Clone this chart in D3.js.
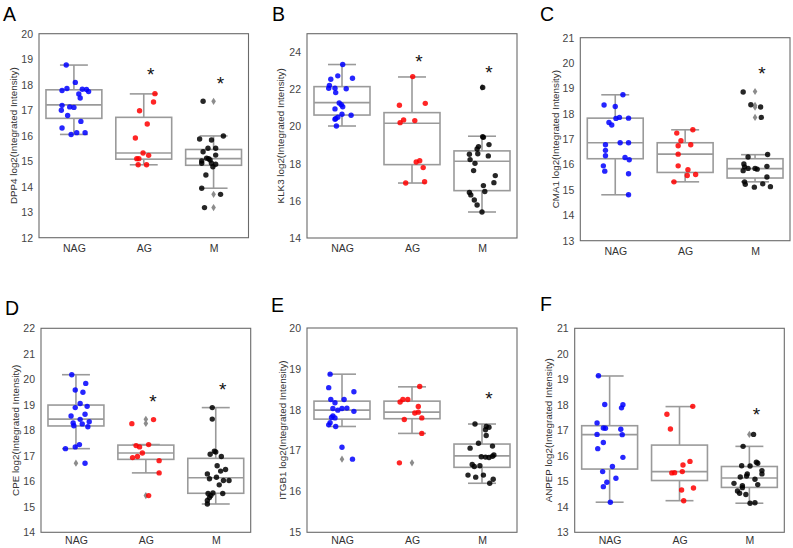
<!DOCTYPE html>
<html>
<head>
<meta charset="utf-8">
<script src="https://cdn.jsdelivr.net/npm/d3@7"></script>
<style>
  html, body { margin: 0; padding: 0; background: #fff; }
  svg { display: block; font-family: "Liberation Sans", Arial, sans-serif; }
</style>
</head>
<body>
<svg id="chart" width="793" height="548"></svg>
<script>
// ---------------- DATA ----------------
const groups = ["NAG", "AG", "M"];
const panelLetters = ["A", "B", "C", "D", "E", "F"];
const proteins = ["DPP4", "KLK3", "CMA1", "CPE", "ITGB1", "ANPEP"];
const yDomains = [[12, 20], [14, 25], [13, 21], [14, 22], [15, 20], [13, 21]];
const yTickValues = [
  [12, 13, 14, 15, 16, 17, 18, 19, 20],
  [14, 16, 18, 20, 22, 24],
  [13, 14, 15, 16, 17, 18, 19, 20, 21],
  [14, 15, 16, 17, 18, 19, 20, 21, 22],
  [15, 16, 17, 18, 19, 20],
  [13, 14, 15, 16, 17, 18, 19, 20, 21]
];

// points: [value, jitter within category (category units)]
const dpp4NAG = [[18.77,-0.11],[18.09,0.02],[17.77,-0.17],[17.85,-0.10],[17.82,0.12],[17.81,0.18],[17.73,0.21],[17.64,0.07],[17.48,0.09],[17.19,-0.17],[17.13,-0.06],[17.11,0.0],[17.00,-0.18],[16.79,-0.09],[16.56,0.10],[16.30,-0.17],[16.05,-0.04],[16.12,0.04],[16.12,0.16]];
const dpp4AG = [[17.65,0.16],[17.32,0.14],[16.98,-0.06],[16.46,0.05],[15.91,-0.12],[15.32,-0.01],[15.23,0.07],[15.10,-0.10],[15.10,-0.07],[14.86,-0.08],[14.86,0.04]];
const dpp4M = [[17.35,-0.15],[15.99,0.14],[15.87,-0.20],[15.83,-0.03],[15.51,-0.08],[15.51,0.03],[15.37,-0.15],[15.24,0.03],[15.12,-0.10],[15.10,-0.07],[15.05,-0.05],[15.01,-0.17],[14.92,-0.17],[14.92,-0.03],[14.88,0.03],[14.78,-0.01],[14.46,-0.11],[13.94,-0.17],[13.70,0.10],[13.18,-0.13]];
const dpp4Box = [[16.05,16.68,17.21,17.80,18.77],[14.86,15.08,15.32,16.72,17.64],[13.94,14.84,15.10,15.46,15.99]];
const dpp4Outliers = [[2,17.35],[2,13.70],[2,13.18]];
const dpp4Stars = [[1,18.56],[2,18.23]];

const klk3NAG = [[23.34,0.01],[22.73,-0.06],[22.55,-0.16],[22.60,0.15],[22.22,-0.18],[22.06,-0.19],[22.06,-0.10],[22.04,0.06],[21.83,-0.09],[21.27,-0.04],[21.18,-0.01],[21.07,0.01],[20.95,-0.10],[20.66,0.0],[20.61,0.13],[20.50,-0.06],[20.43,-0.09],[20.39,-0.10],[20.03,-0.08]];
const klk3AG = [[22.69,0.01],[21.15,-0.18],[21.25,0.19],[20.36,-0.12],[20.21,-0.17],[20.32,0.04],[18.09,0.06],[18.16,0.11],[17.79,0.16],[16.96,-0.09],[17.03,0.18]];
const klk3M = [[22.11,0.01],[19.42,0.02],[19.45,0.01],[18.92,-0.05],[18.79,-0.07],[19.03,0.10],[18.51,-0.18],[18.54,-0.06],[18.42,0.09],[18.22,-0.17],[18.02,-0.10],[17.63,-0.12],[17.36,0.19],[16.98,0.17],[16.82,0.02],[16.45,-0.18],[16.32,-0.16],[16.50,0.04],[16.05,-0.11],[15.78,-0.07],[15.40,0.0]];
const klk3Box = [[20.03,20.62,21.29,22.15,23.34],[16.96,17.95,20.18,20.75,22.67],[15.40,16.55,18.13,18.69,19.48]];
const klk3Outliers = [[2,22.11]];
const klk3Stars = [[1,23.71],[2,23.14]];

const cma1NAG = [[18.75,0.11],[18.35,-0.16],[18.29,0.0],[17.82,0.01],[17.86,0.06],[17.83,0.19],[17.66,-0.09],[17.56,-0.05],[16.78,-0.14],[16.86,0.07],[16.86,0.19],[16.56,-0.14],[16.35,-0.14],[16.28,0.14],[16.19,0.20],[15.95,-0.17],[15.74,-0.15],[15.64,0.19],[14.81,0.19]];
const cma1AG = [[17.37,0.11],[17.24,-0.12],[16.94,-0.06],[16.74,-0.10],[16.78,0.08],[16.41,-0.10],[15.95,-0.10],[15.80,0.04],[15.57,0.03],[15.61,0.15],[15.32,-0.16]];
const cma1M = [[18.86,-0.17],[18.36,-0.06],[18.27,0.08],[17.86,0.09],[16.30,-0.10],[16.40,0.18],[16.02,-0.16],[15.91,-0.15],[15.85,-0.10],[15.85,0.0],[15.82,0.03],[15.93,0.17],[15.76,-0.17],[15.32,-0.15],[15.22,-0.14],[15.51,0.17],[15.24,0.11],[15.11,-0.01],[15.13,0.22]];
const cma1Box = [[14.81,16.23,16.86,17.83,18.75],[15.32,15.69,16.41,16.86,17.37],[15.32,15.47,15.84,16.23,16.39]];
const cma1Outliers = [[2,18.88],[2,18.33],[2,18.26],[2,17.86]];
const cma1Stars = [[2,19.76]];

const cpeNAG = [[20.18,-0.06],[19.84,0.14],[19.58,-0.01],[19.49,0.10],[19.05,0.06],[18.94,0.16],[18.89,-0.01],[18.56,-0.07],[18.63,0.13],[18.43,0.06],[18.29,-0.04],[18.18,-0.03],[18.25,0.09],[18.34,0.19],[18.14,0.17],[17.44,0.05],[17.35,-0.01],[17.28,-0.15],[16.71,0.13]];
const cpeAG = [[18.26,-0.20],[18.42,0.11],[17.44,0.04],[17.40,-0.14],[17.35,-0.09],[17.11,-0.05],[16.97,-0.12],[16.93,-0.19],[16.81,0.19],[16.33,0.19],[15.44,0.04]];
const cpeM = [[18.89,-0.05],[18.44,-0.05],[17.18,-0.02],[17.15,0.0],[17.06,-0.08],[16.97,0.08],[16.61,0.02],[16.46,0.14],[16.40,0.07],[16.29,-0.12],[16.10,-0.09],[16.16,0.01],[16.03,0.19],[16.03,0.11],[15.86,0.05],[15.52,-0.11],[15.54,-0.04],[15.52,0.10],[15.36,-0.09],[15.44,-0.07],[15.25,-0.12],[15.11,-0.12]];
const cpeBox = [[17.28,18.17,18.44,18.99,20.18],[16.33,16.86,17.11,17.42,17.44],[15.11,15.53,16.14,16.90,18.89]];
const cpeOutliers = [[0,16.71],[1,18.43],[1,18.27],[1,15.44]];
const cpeStars = [[1,19.29],[2,19.78]];

const itgb1NAG = [[18.87,-0.17],[18.54,-0.19],[18.44,0.17],[18.25,-0.16],[18.25,0.03],[18.17,-0.10],[18.03,-0.13],[18.03,0.0],[17.99,-0.06],[18.04,0.07],[17.96,0.17],[17.85,-0.13],[17.81,-0.15],[17.80,-0.10],[17.68,-0.17],[17.63,-0.19],[17.59,-0.09],[17.08,0.0],[16.79,0.15]];
const itgb1AG = [[18.57,0.11],[18.19,-0.17],[18.25,-0.13],[18.25,-0.06],[18.08,0.09],[17.92,0.04],[17.94,0.09],[17.76,-0.11],[17.80,0.14],[17.42,0.14],[16.70,-0.18]];
const itgb1M = [[17.65,-0.10],[17.59,0.06],[17.57,0.10],[17.51,0.05],[17.37,0.06],[17.18,-0.05],[17.06,-0.17],[17.11,0.15],[16.85,-0.01],[16.84,0.05],[16.83,0.10],[16.86,0.15],[16.89,0.17],[16.66,-0.14],[16.61,-0.11],[16.63,-0.03],[16.40,-0.20],[16.35,-0.09],[16.40,0.02],[16.30,0.16],[16.20,0.11]];
const itgb1Box = [[17.59,17.77,17.99,18.21,18.87],[17.42,17.78,17.94,18.21,18.56],[16.20,16.59,16.87,17.16,17.65]];
const itgb1Outliers = [[0,16.79],[1,16.70]];
const itgb1Stars = [[2,18.38]];

const anpepNAG = [[19.14,-0.16],[18.01,-0.07],[18.00,0.19],[17.88,0.17],[17.29,-0.18],[17.09,-0.09],[17.08,-0.06],[17.04,0.16],[16.84,-0.18],[16.83,0.18],[16.52,-0.09],[16.28,-0.17],[15.94,0.19],[15.58,0.04],[15.38,-0.10],[15.12,0.09],[14.96,-0.04],[14.79,-0.09],[14.18,0.01]];
const anpepAG = [[17.94,0.19],[17.63,-0.18],[17.05,-0.13],[15.78,0.15],[15.64,0.05],[15.33,-0.11],[15.34,-0.07],[15.38,0.04],[14.74,0.20],[14.66,0.03],[14.24,0.06]];
const anpepM = [[16.84,0.06],[16.37,-0.09],[15.75,0.10],[15.71,0.12],[15.61,-0.11],[15.60,0.01],[15.42,0.18],[15.29,0.18],[15.29,-0.03],[15.21,-0.04],[15.17,-0.13],[15.08,0.08],[14.92,-0.22],[14.83,-0.10],[14.75,-0.10],[14.87,0.12],[14.62,-0.17],[14.53,-0.14],[14.48,-0.05],[14.14,0.01],[14.16,0.08]];
const anpepBox = [[14.18,15.48,16.83,17.18,19.13],[14.24,15.03,15.38,16.42,17.93],[14.14,14.76,15.13,15.58,16.37]];
const anpepOutliers = [[2,16.84]];
const anpepStars = [[2,17.77]];

const panelPoints = [
  [dpp4NAG, dpp4AG, dpp4M],
  [klk3NAG, klk3AG, klk3M],
  [cma1NAG, cma1AG, cma1M],
  [cpeNAG, cpeAG, cpeM],
  [itgb1NAG, itgb1AG, itgb1M],
  [anpepNAG, anpepAG, anpepM]
];
const panelBoxes = [dpp4Box, klk3Box, cma1Box, cpeBox, itgb1Box, anpepBox];
const panelOutliers = [dpp4Outliers, klk3Outliers, cma1Outliers, cpeOutliers, itgb1Outliers, anpepOutliers];
const panelStars = [dpp4Stars, klk3Stars, cma1Stars, cpeStars, itgb1Stars, anpepStars];

// ---------------- LAYOUT / STYLE ----------------
const layout = [
  {x0: 39,    x1: 248.5, y0: 33.7,  y1: 237.7, lx: 3,   ly: 21,    tx: 13.3,  xpad: 6.8},
  {x0: 307,   x1: 517,   y0: 33.7,  y1: 238,   lx: 272, ly: 20.5,  tx: 280.3, xpad: 6.8},
  {x0: 580.3, x1: 790,   y0: 37.7,  y1: 240.7, lx: 540, ly: 21,    tx: 555.3, xpad: 6.8},
  {x0: 41,    x1: 250.7, y0: 328.3, y1: 532.3, lx: 5,   ly: 314.5, tx: 15,    xpad: 4.6},
  {x0: 307,   x1: 517,   y0: 328,   y1: 532.3, lx: 271, ly: 312,   tx: 282,   xpad: 4.6},
  {x0: 574.7, x1: 784.3, y0: 328.3, y1: 532.3, lx: 540, ly: 311,   tx: 548.7, xpad: 4.6}
];
const dotColors = ["#0000ff", "#ff0000", "#000000"];
const boxStroke = "#9a9a9a";
const frameStroke = "#6a6a6a";
const starSize = 19;
const tickFont = 10.5;

const svg = d3.select("#chart");

layout.forEach((L, p) => {
  const g = svg.append("g");
  const x = d3.scaleLinear().domain([-0.5, 2.5]).range([L.x0, L.x1]);
  const y = d3.scaleLinear().domain(yDomains[p]).range([L.y1, L.y0]);
  const bw = x(1) - x(0);
  const boxW = 0.8 * bw;
  const capW = 0.5 * boxW;

  // panel letter
  svg.append("text").attr("x", L.lx).attr("y", L.ly)
    .attr("font-size", 19.5).attr("fill", "#000").text(panelLetters[p]);

  // y axis title
  svg.append("text")
    .attr("transform", `translate(${L.tx},${(L.y0 + L.y1) / 2}) rotate(-90)`)
    .attr("text-anchor", "middle").attr("dominant-baseline", "central")
    .attr("font-size", 9.8).attr("fill", "#333")
    .text(proteins[p] + " log2(Integrated Intensity)");

  // axes
  const ya = g.append("g").attr("transform", `translate(${L.x0},0)`)
    .call(d3.axisLeft(y).tickValues(yTickValues[p]).tickSize(0).tickPadding(6).tickFormat(d3.format("d")));
  ya.select(".domain").remove();
  ya.selectAll("text").attr("font-size", tickFont).attr("fill", "#444")
    .style("font-family", "'Liberation Sans', Arial, sans-serif");

  const xa = g.append("g").attr("transform", `translate(0,${L.y1})`)
    .call(d3.axisBottom(x).tickValues([0, 1, 2]).tickSize(0).tickPadding(L.xpad).tickFormat(i => groups[i]));
  xa.select(".domain").remove();
  xa.selectAll("text").attr("font-size", tickFont).attr("fill", "#333")
    .style("font-family", "'Liberation Sans', Arial, sans-serif");

  // boxes
  panelBoxes[p].forEach((b, i) => {
    const [wlo, q1, med, q3, whi] = b;
    const cx = x(i);
    const bg = g.append("g").attr("stroke", boxStroke).attr("stroke-width", 1.6).attr("fill", "none");
    bg.append("line").attr("x1", cx).attr("x2", cx).attr("y1", y(q3)).attr("y2", y(whi));
    bg.append("line").attr("x1", cx).attr("x2", cx).attr("y1", y(q1)).attr("y2", y(wlo));
    bg.append("line").attr("x1", cx - capW / 2).attr("x2", cx + capW / 2).attr("y1", y(whi)).attr("y2", y(whi));
    bg.append("line").attr("x1", cx - capW / 2).attr("x2", cx + capW / 2).attr("y1", y(wlo)).attr("y2", y(wlo));
    bg.append("rect").attr("x", cx - boxW / 2).attr("width", boxW)
      .attr("y", y(q3)).attr("height", y(q1) - y(q3)).attr("fill", "#fff");
    bg.append("line").attr("x1", cx - boxW / 2).attr("x2", cx + boxW / 2).attr("y1", y(med)).attr("y2", y(med));
  });

  // outliers (diamonds)
  g.selectAll("path.out").data(panelOutliers[p]).join("path")
    .attr("class", "out")
    .attr("d", "M0,-3.6L2.3,0L0,3.6L-2.3,0Z")
    .attr("transform", d => `translate(${x(d[0])},${y(d[1])})`)
    .attr("fill", "#8c8c8c");

  // strip points
  panelPoints[p].forEach((pts, i) => {
    g.selectAll(null).data(pts).join("circle")
      .attr("cx", d => x(i + d[1]))
      .attr("cy", d => y(d[0]))
      .attr("r", 2.7)
      .attr("fill", dotColors[i])
      .attr("fill-opacity", 0.85);
  });

  // stars
  g.selectAll("text.star").data(panelStars[p]).join("text")
    .attr("class", "star")
    .attr("x", d => x(d[0] + 0.1))
    .attr("y", d => y(d[1]) + 0.57 * starSize)
    .attr("text-anchor", "middle")
    .attr("font-size", starSize).attr("fill", "#111")
    .text("*");

  // frame
  g.append("rect").attr("x", L.x0).attr("y", L.y0)
    .attr("width", L.x1 - L.x0).attr("height", L.y1 - L.y0)
    .attr("fill", "none").attr("stroke", frameStroke).attr("stroke-width", 1.1);
});
</script>
</body>
</html>
